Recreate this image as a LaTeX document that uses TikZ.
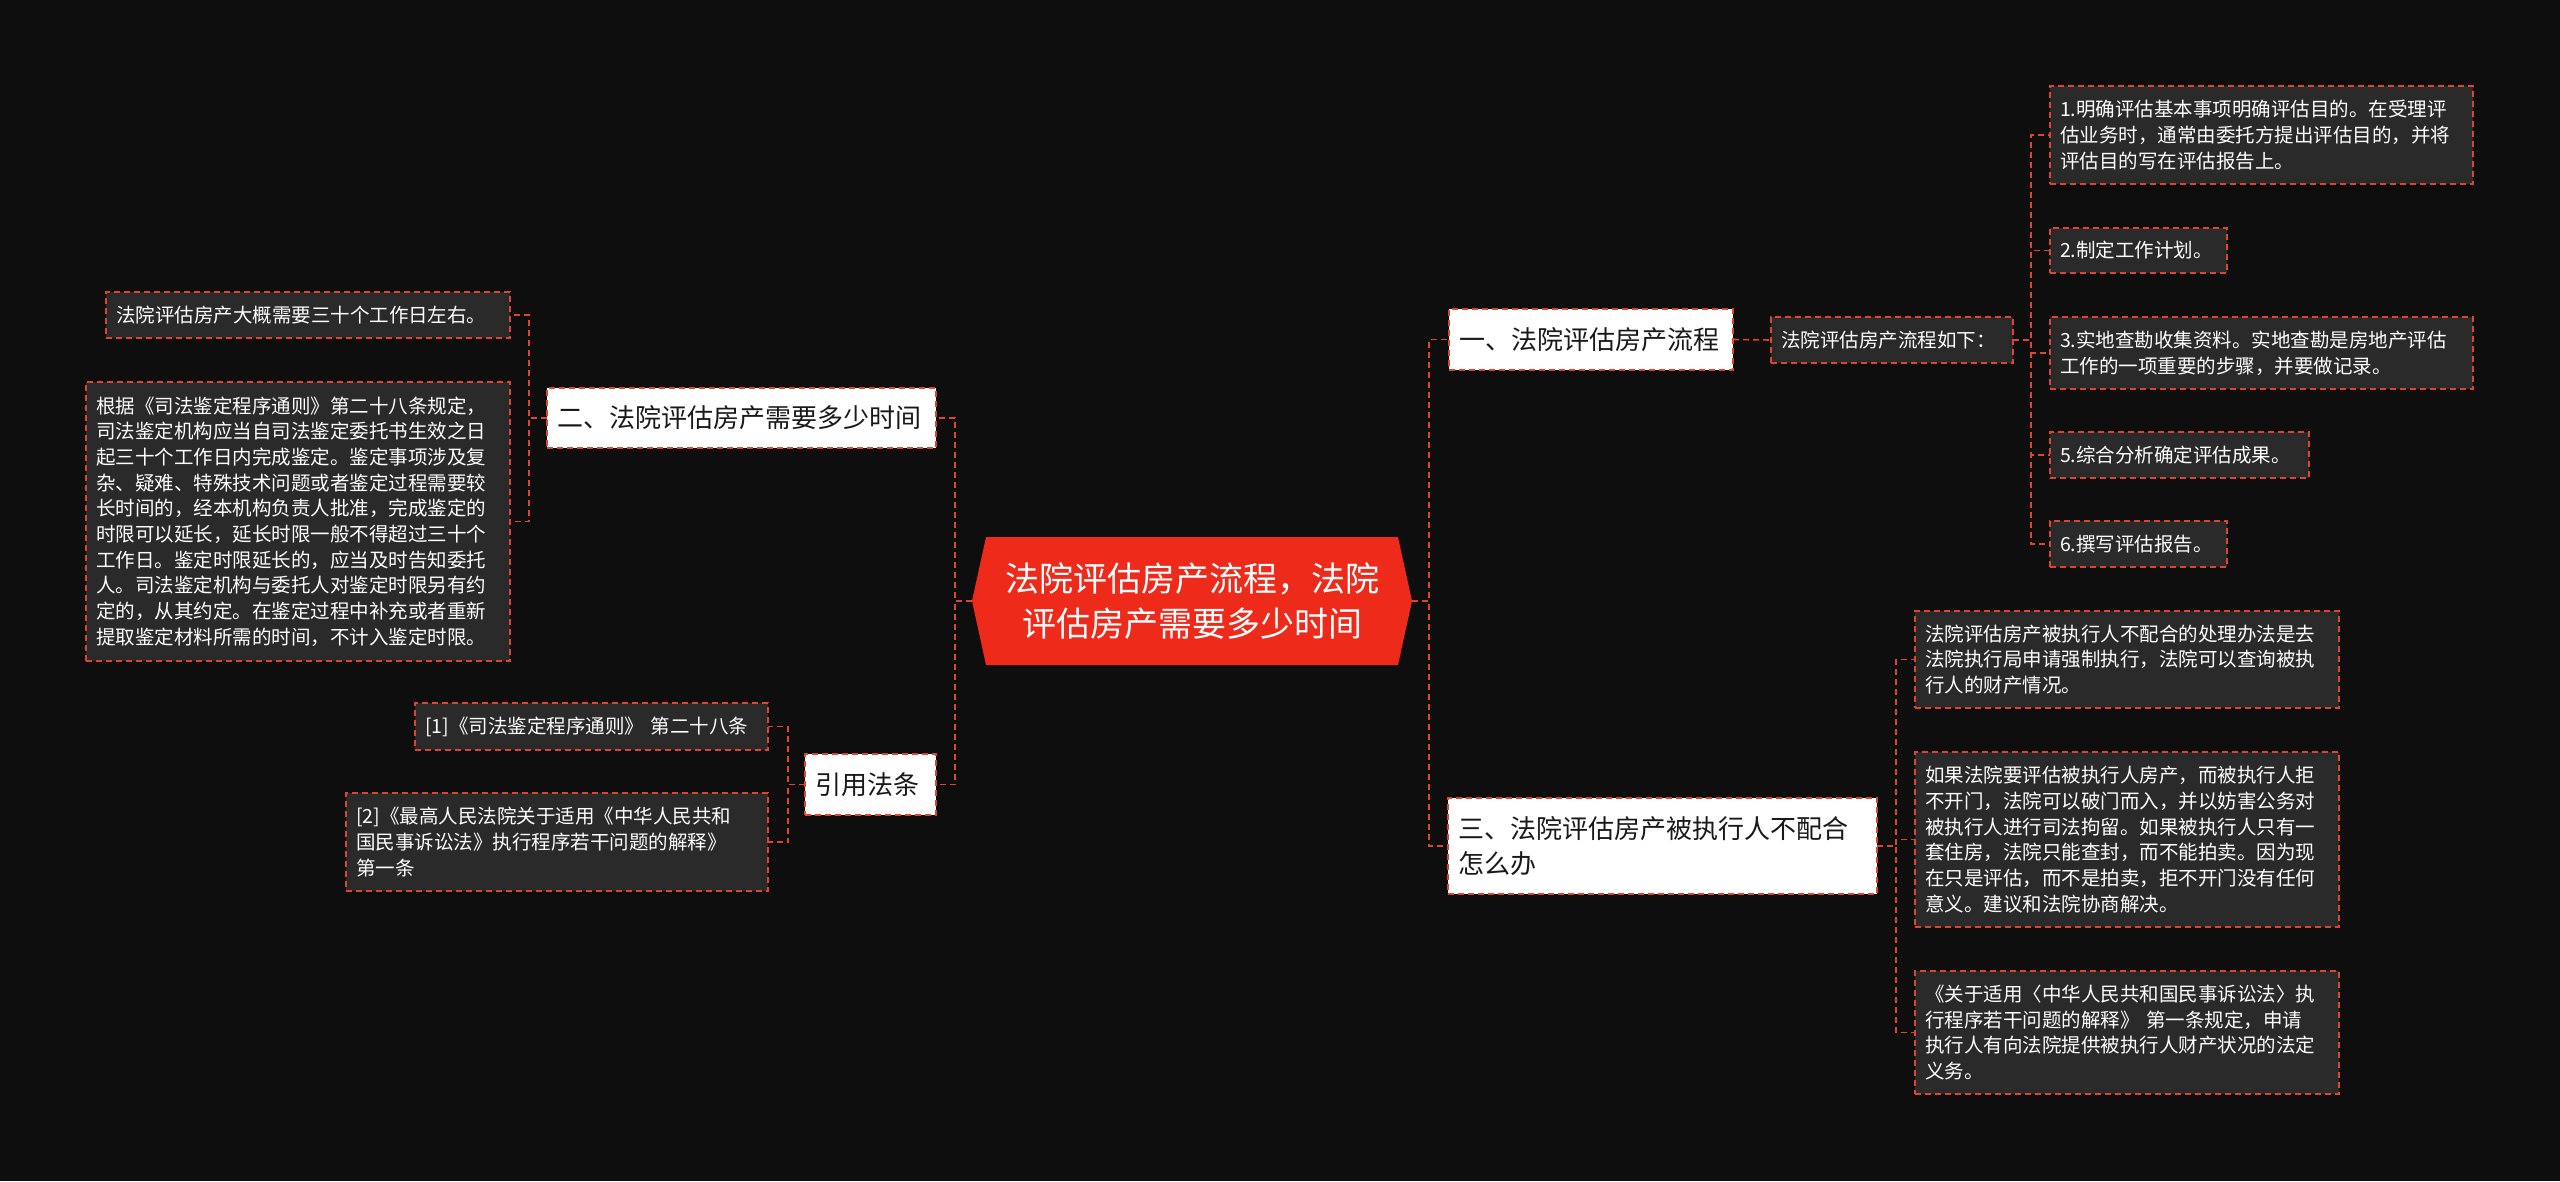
\documentclass[tikz,border=0pt]{standalone}
\usepackage{fontspec}
\setmainfont{Noto Sans CJK SC}
\usetikzlibrary{backgrounds,calc}
\definecolor{bgc}{HTML}{0E0E0E}
\definecolor{redl}{HTML}{E0442F}
\definecolor{leaff}{HTML}{2A2A2A}
\definecolor{ctrf}{HTML}{EE2A1B}
\XeTeXlinebreaklocale "zh"
\begin{document}
\begin{tikzpicture}[x=1pt,y=-1pt,
  box/.style={anchor=north west, draw=redl, line width=1.6pt, dash pattern=on 6pt off 4pt, inner xsep=10pt, inner ysep=0pt, outer sep=0pt, align=left},
  leaf/.style={box, fill=leaff, text=white, font=\fontsize{19.5}{25.7}\selectfont},
  topic/.style={box, fill=white, text=black!90, font=\fontsize{26}{34.7}\selectfont},
  conn/.style={draw=redl, line width=1.6pt, dash pattern=on 6pt off 4pt}]
\useasboundingbox (0,0) rectangle (2560,1181);

% center
\node[minimum width=440pt, minimum height=128pt, inner sep=0pt, outer sep=0pt, align=center, text=white,
      font=\fontsize{34}{45}\selectfont] (ctr) at (1192,601) {法院评估房产流程，法院\\评估房产需要多少时间};
\begin{scope}[on background layer]
\fill[bgc] (0,0) rectangle (2560,1181);
\fill[ctrf] (ctr.west) -- ($(ctr.north west)+(14,0)$) -- ($(ctr.north east)+(-14,0)$) -- (ctr.east)
  -- ($(ctr.south east)+(-14,0)$) -- ($(ctr.south west)+(14,0)$) -- cycle;
\end{scope}

% topics
\node[topic, text width=264pt, minimum height=61pt] (n1) at (1449,309) {一、法院评估房产流程};
\node[topic, text width=369pt, minimum height=60pt] (n2) at (547,388) {二、法院评估房产需要多少时间};
\node[topic, text width=409pt, minimum height=96pt] (n3) at (1448,798) {三、法院评估房产被执行人不配合\\怎么办};
\node[topic, text width=111pt, minimum height=61pt] (n4) at (805,754) {引用法条};

% left leaves
\node[leaf, text width=384pt, minimum height=46pt] (la) at (106,292) {法院评估房产大概需要三十个工作日左右。};
\node[leaf, text width=404pt, minimum height=279pt] (lb) at (86,382) {根据《司法鉴定程序通则》第二十八条规定，\\司法鉴定机构应当自司法鉴定委托书生效之日\\起三十个工作日内完成鉴定。鉴定事项涉及复\\杂、疑难、特殊技术问题或者鉴定过程需要较\\长时间的，经本机构负责人批准，完成鉴定的\\时限可以延长，延长时限一般不得超过三十个\\工作日。鉴定时限延长的，应当及时告知委托\\人。司法鉴定机构与委托人对鉴定时限另有约\\定的，从其约定。在鉴定过程中补充或者重新\\提取鉴定材料所需的时间，不计入鉴定时限。};
\node[leaf, text width=333pt, minimum height=47pt] (c1) at (415,703) {[1]《司法鉴定程序通则》 第二十八条};
\node[leaf, text width=402pt, minimum height=98pt] (c2) at (346,793) {[2]《最高人民法院关于适用《中华人民共和\\国民事诉讼法》执行程序若干问题的解释》\\第一条};

% right leaves (branch 1)
\node[leaf, text width=222pt, minimum height=46pt] (fl) at (1771,317) {法院评估房产流程如下：};
\node[leaf, text width=403pt, minimum height=98pt] (s1) at (2050,86) {1.明确评估基本事项明确评估目的。在受理评\\估业务时，通常由委托方提出评估目的，并将\\评估目的写在评估报告上。};
\node[leaf, text width=157pt, minimum height=45pt] (s2) at (2050,228) {2.制定工作计划。};
\node[leaf, text width=403pt, minimum height=72pt] (s3) at (2050,317) {3.实地查勘收集资料。实地查勘是房地产评估\\工作的一项重要的步骤，并要做记录。};
\node[leaf, text width=239pt, minimum height=46pt] (s5) at (2050,432) {5.综合分析确定评估成果。};
\node[leaf, text width=157pt, minimum height=46pt] (s6) at (2050,521) {6.撰写评估报告。};

% right leaves (branch 3)
\node[leaf, text width=404pt, minimum height=97pt] (r1) at (1915,611) {法院评估房产被执行人不配合的处理办法是去\\法院执行局申请强制执行，法院可以查询被执\\行人的财产情况。};
\node[leaf, text width=404pt, minimum height=175pt] (r2) at (1915,752) {如果法院要评估被执行人房产，而被执行人拒\\不开门，法院可以破门而入，并以妨害公务对\\被执行人进行司法拘留。如果被执行人只有一\\套住房，法院只能查封，而不能拍卖。因为现\\在只是评估，而不是拍卖，拒不开门没有任何\\意义。建议和法院协商解决。};
\node[leaf, text width=404pt, minimum height=123pt] (r3) at (1915,971) {《关于适用〈中华人民共和国民事诉讼法〉执\\行程序若干问题的解释》 第一条规定，申请\\执行人有向法院提供被执行人财产状况的法定\\义务。};

% connectors
\draw[conn] (ctr.west) -- ++(-17,0) |- (n2.east);
\draw[conn] (ctr.west) -- ++(-17,0) |- (n4.east);
\draw[conn] (n2.west) -- ++(-18,0) |- (la.east);
\draw[conn] (n2.west) -- ++(-18,0) |- (lb.east);
\draw[conn] (n4.west) -- ++(-17,0) |- (c1.east);
\draw[conn] (n4.west) -- ++(-17,0) |- (c2.east);

\draw[conn] (ctr.east) -- ++(17,0) |- (n1.west);
\draw[conn] (ctr.east) -- ++(17,0) |- (n3.west);
\draw[conn] (n1.east) -- (fl.west);
\foreach \t in {s1,s2,s3,s5,s6}
  \draw[conn] (fl.east) -- ++(18,0) |- (\t.west);
\foreach \t in {r1,r2,r3}
  \draw[conn] (n3.east) -- ++(19,0) |- (\t.west);
\end{tikzpicture}
\end{document}
